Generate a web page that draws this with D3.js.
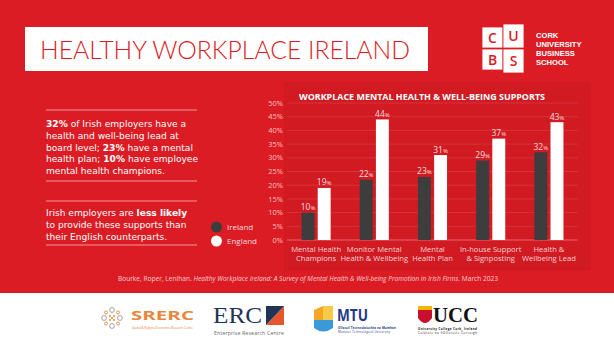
<!DOCTYPE html>
<html><head><meta charset="utf-8">
<script src="https://cdn.jsdelivr.net/npm/d3@7"></script>
<style>
html,body{margin:0;padding:0;background:#fff;}
svg{display:block;}
</style></head>
<body>
<svg id="c" width="614" height="345"></svg>
<script>
// ---- data ----
const categories = ["Mental Health Champions","Monitor Mental Health & Wellbeing","Mental Health Plan","In-house Support & Signposting","Health & Wellbeing Lead"];
const categoryLines = [["Mental Health","Champions"],["Monitor Mental","Health & Wellbeing"],["Mental","Health Plan"],["In-house Support","& Signposting"],["Health &","Wellbeing Lead"]];
const seriesNames = ["Ireland","England"];
const irelandValues = [10,22,23,29,32];
const englandValues = [19,44,31,37,43];
const yTicks = [0,5,10,15,20,25,30,35,40,45,50];
const chartTitle = "WORKPLACE MENTAL HEALTH & WELL-BEING SUPPORTS";

const RED = "#dc1c24", PANEL = "#d11a22", DARK = "#3d3d3d";
const FONT = "'Open Sans', sans-serif";
const svg = d3.select("#c");

// backgrounds
svg.append("rect").attr("x",0).attr("y",0).attr("width",614).attr("height",293).attr("fill",RED);
svg.append("rect").attr("x",0).attr("y",293).attr("width",614).attr("height",52).attr("fill","#fff");
svg.append("rect").attr("x",284).attr("y",82).attr("width",307).attr("height",189).attr("fill",PANEL);

// title box
svg.append("rect").attr("x",25).attr("y",27).attr("width",403).attr("height",44).attr("fill","#fff");
svg.append("text").attr("x",40).attr("y",58.5).attr("fill",RED).attr("font-family","Lato, sans-serif")
  .attr("font-weight",300).attr("font-size",25).attr("textLength",370).attr("lengthAdjust","spacingAndGlyphs")
  .text("HEALTHY WORKPLACE IRELAND");

// CUBS logo
const cubs = [["C",482,27],["U",503,24],["B",482,49],["S",503,49]];
const hs = [21,24,21,24];
cubs.forEach((d,i)=>{
  svg.append("rect").attr("x",d[1]).attr("y",d[2]).attr("width",21).attr("height",hs[i]).attr("fill","#fff")
    .attr("stroke",RED).attr("stroke-width",0.8);
  svg.append("text").attr("x",d[1]+10.5).attr("y",d[2]+hs[i]/2+5).attr("text-anchor","middle").attr("fill",RED)
    .attr("font-family",FONT).attr("font-weight",600).attr("font-size",14).text(d[0]);
});
["CORK","UNIVERSITY","BUSINESS","SCHOOL"].forEach((t,i)=>{
  svg.append("text").attr("x",536).attr("y",38+i*9).attr("fill","#fff").attr("font-family","'Liberation Sans', sans-serif")
    .attr("font-weight",700).attr("font-size",7.6).text(t);
});

// left text block
const lineC = "rgba(255,255,255,0.55)";
[110,181,201,245].forEach(y=>{
  svg.append("line").attr("x1",46).attr("x2",197).attr("y1",y).attr("y2",y).attr("stroke",lineC).attr("stroke-width",1);
});
const para1 = [[["32%",1],[" of Irish employers have a",0]],[["health and well-being lead at",0]],
  [["board level; ",0],["23%",1],[" have a mental",0]],[["health plan; ",0],["10%",1],[" have employee",0]],
  [["mental health champions.",0]]];
const para2 = [[["Irish employers are ",0],["less likely",1]],[["to provide these supports than",0]],[["their English counterparts.",0]]];
function para(lines,y0){
  lines.forEach((ln,i)=>{
    const t = svg.append("text").attr("x",46).attr("y",y0+i*11.8).attr("fill","#fff")
      .attr("font-family","'DejaVu Sans', sans-serif").attr("font-size",9.1);
    ln.forEach(s=>t.append("tspan").attr("font-weight",s[1]?700:400).text(s[0]));
  });
}
para(para1,127);
para(para2,216);

// legend
const colors = {Ireland:DARK, England:"#fff"};
seriesNames.forEach((s,i)=>{
  svg.append("circle").attr("cx",216.5).attr("cy",227+i*14).attr("r",5.5).attr("fill",colors[s]);
  svg.append("text").attr("x",227).attr("y",230+i*14).attr("fill","rgba(255,255,255,0.85)")
    .attr("font-family",FONT).attr("font-size",8).text(s);
});

// chart
const y = d3.scaleLinear().domain([0,50]).range([240,103]);
const x0 = d3.scaleBand().domain(categories).range([287,578]).paddingInner(0.5).paddingOuter(0.25);
const x1 = d3.scaleBand().domain(seriesNames).range([0,x0.bandwidth()]).paddingInner(0.2);

svg.append("text").attr("x",299).attr("y",99.5).attr("fill","#fff").attr("font-family",FONT)
  .attr("font-weight",700).attr("font-size",8.6).attr("textLength",246).attr("lengthAdjust","spacingAndGlyphs").text(chartTitle);

const gy = svg.append("g");
yTicks.forEach(t=>{
  gy.append("line").attr("x1",287).attr("x2",578).attr("y1",y(t)).attr("y2",y(t))
    .attr("stroke", t===0 ? "rgba(255,255,255,0.35)" : "rgba(255,255,255,0.14)").attr("stroke-width",t===0?1:0.8);
  gy.append("text").attr("x",283).attr("y",y(t)+2.6).attr("text-anchor","end").attr("fill","rgba(255,255,255,0.72)")
    .attr("font-family",FONT).attr("font-size",7.5).text(t+"%");
});

const rows = categories.map((c,i)=>({cat:c, vals:[{s:"Ireland",v:irelandValues[i]},{s:"England",v:englandValues[i]}]}));
const g = svg.selectAll("g.grp").data(rows).enter().append("g").attr("class","grp")
  .attr("transform",d=>`translate(${x0(d.cat)},0)`);
g.selectAll("rect").data(d=>d.vals).enter().append("rect")
  .attr("x",d=>x1(d.s)).attr("width",x1.bandwidth()).attr("y",d=>y(d.v)).attr("height",d=>y(0)-y(d.v))
  .attr("fill",d=>colors[d.s]);
const lbl = g.selectAll("text.v").data(d=>d.vals).enter().append("text").attr("class","v")
  .attr("x",d=>x1(d.s)+x1.bandwidth()/2).attr("y",d=>y(d.v)-2.5).attr("text-anchor","middle")
  .attr("fill","rgba(255,255,255,0.85)").attr("font-family",FONT).attr("font-size",8.5);
lbl.append("tspan").text(d=>d.v);
lbl.append("tspan").attr("font-size",6).text("%");

// category labels
categories.forEach((c,i)=>{
  const cx = x0(c)+x0.bandwidth()/2;
  categoryLines[i].forEach((ln,j)=>{
    svg.append("text").attr("x",cx).attr("y",252+j*9.3).attr("text-anchor","middle").attr("fill","rgba(255,255,255,0.8)")
      .attr("font-family",FONT).attr("font-size",7.6).text(ln);
  });
});

// source
const src = svg.append("text").attr("x",308).attr("y",281).attr("text-anchor","middle").attr("fill","rgba(255,255,255,0.78)")
  .attr("font-family",FONT).attr("font-size",6.6);
src.append("tspan").text("Bourke, Roper, Lenihan. ");
src.append("tspan").attr("font-style","italic").text("Healthy Workplace Ireland: A Survey of Mental Health & Well-being Promotion in Irish Firms.");
src.append("tspan").text(" March 2023");

// ---- logos (bottom strip) ----
const lg = svg.append("g");
// SRERC
const ring = [[0,-8],[6,-5.5],[8,0],[6,5.5],[0,8],[-6,5.5],[-8,0],[-6,-5.5]];
ring.forEach((p,i)=>{
  lg.append("circle").attr("cx",112+p[0]).attr("cy",318+p[1]).attr("r",i%2?1.5:2.4).attr("fill","none")
    .attr("stroke",i%2?"#e88a36":"#999").attr("stroke-width",0.9);
});
[[-2,-2],[2,-2],[-2,2],[2,2],[0,0]].forEach(p=>lg.append("circle").attr("cx",112+p[0]).attr("cy",318+p[1]).attr("r",1).attr("fill","#e88a36"));
lg.append("text").attr("x",131).attr("y",320).attr("fill","#e8873a").attr("font-family",FONT).attr("font-weight",700)
  .attr("font-size",11.5).attr("textLength",63).attr("lengthAdjust","spacingAndGlyphs").text("SRERC");
lg.append("text").attr("x",132).attr("y",328.5).attr("fill","#e8873a").attr("font-family",FONT).attr("font-size",3)
  .attr("textLength",61).text("Spatial & Regional Economics Research Centre");
// ERC
lg.append("text").attr("x",213).attr("y",323).attr("fill","#1f3557").attr("font-family","'Liberation Serif', serif")
  .attr("font-size",24).attr("textLength",49).attr("lengthAdjust","spacingAndGlyphs").text("ERC");
lg.append("path").attr("d","M266,325 L284,306 L284,325 Z").attr("fill","#e4572e");
lg.append("path").attr("d","M266,306 L284,306 L266,325 Z").attr("fill","#1f3557");
lg.append("text").attr("x",214).attr("y",334.5).attr("fill","#666").attr("font-family",FONT).attr("font-size",5.2)
  .attr("textLength",70).text("Enterprise Research Centre");
// MTU
lg.append("path").attr("d","M314,310 L323,306 L323,320 L314,320 Z").attr("fill","#f5a623");
lg.append("path").attr("d","M323,306 L333,306 L333,320 L323,320 Z").attr("fill","#f7c948");
lg.append("path").attr("d","M314,320 L333,320 L333,328 Q323,335 314,328 Z").attr("fill","#3a9ad9");
lg.append("text").attr("x",337).attr("y",321).attr("fill","#1f3a8a").attr("font-family",FONT).attr("font-weight",700)
  .attr("font-size",16).attr("textLength",31).attr("lengthAdjust","spacingAndGlyphs").text("MTU");
lg.append("text").attr("x",338).attr("y",328.5).attr("fill","#1f3a8a").attr("font-family",FONT).attr("font-weight",700).attr("font-size",3)
  .attr("textLength",58).text("Ollscoil Teicneolaíochta na Mumhan");
lg.append("text").attr("x",338).attr("y",333).attr("fill","#1f3a8a").attr("font-family",FONT).attr("font-size",3)
  .attr("textLength",52).text("Munster Technological University");
// UCC
lg.append("path").attr("d","M418,306 L432,306 L432,318 Q425,328 418,318 Z").attr("fill","#c8102e");
lg.append("rect").attr("x",418).attr("y",306).attr("width",14).attr("height",4).attr("fill","#f2b705");
lg.append("text").attr("x",433).attr("y",322).attr("fill","#111").attr("font-family","'Liberation Serif', serif")
  .attr("font-weight",700).attr("font-size",21).attr("textLength",45).attr("lengthAdjust","spacingAndGlyphs").text("UCC");
lg.append("text").attr("x",418).attr("y",329.5).attr("fill","#111").attr("font-family",FONT).attr("font-weight",700).attr("font-size",3)
  .attr("textLength",59).text("University College Cork, Ireland");
lg.append("text").attr("x",418).attr("y",334).attr("fill","#111").attr("font-family",FONT).attr("font-size",3)
  .attr("textLength",59).text("Coláiste na hOllscoile Corcaigh");
</script>
</body></html>
